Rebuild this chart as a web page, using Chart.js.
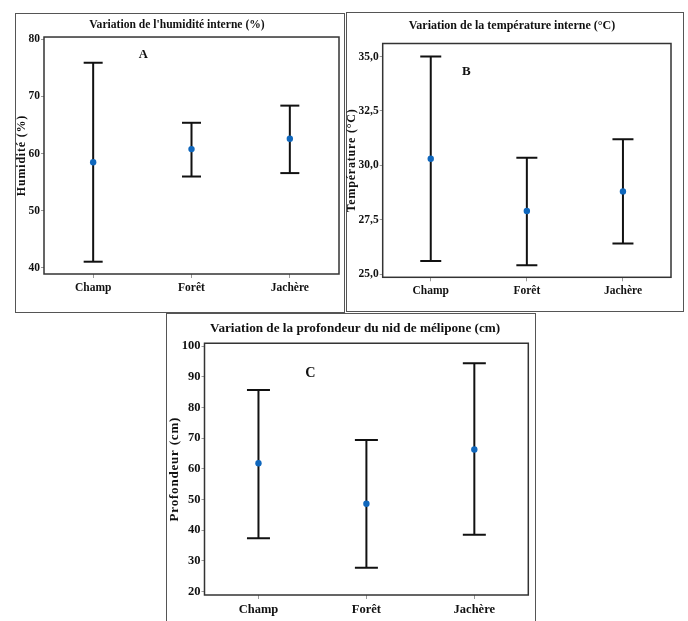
<!DOCTYPE html>
<html lang="fr">
<head>
<meta charset="UTF-8">
<title>Variation humidité, température, profondeur</title>
<script src="https://cdn.jsdelivr.net/npm/chart.js"></script>
<style>
    body { margin: 0; background: #fff; width: 688px; height: 621px; overflow: hidden; position: relative; }
    .frame { position: absolute; border: 1.5px solid #555; box-sizing: border-box; }
    .box { position: absolute; }
    #frameA { left: 15px; top: 13px; width: 330px; height: 300px; }
    #frameB { left: 346px; top: 12px; width: 338px; height: 300px; }
    #frameC { left: 166px; top: 313px; width: 370px; height: 320px; }
    #boxA { left: 15px; top: 13px; width: 329px; height: 299px; }
    #boxB { left: 345px; top: 13px; width: 338px; height: 299px; }
    #boxC { left: 167px; top: 313px; width: 368px; height: 308px; }
</style>
</head>
<body>
<div class="frame" id="frameA"></div>
<div class="frame" id="frameB"></div>
<div class="frame" id="frameC"></div>
<div class="box" id="boxA"><canvas id="chartA"></canvas></div>
<div class="box" id="boxB"><canvas id="chartB"></canvas></div>
<div class="box" id="boxC"><canvas id="chartC"></canvas></div>

<script>
// data
const categories = ['Champ', 'Forêt', 'Jachère'];

const humMean = [58.5, 60.8, 62.6];
const humLow  = [41.1, 56.0, 56.6];
const humHigh = [75.9, 65.4, 68.4];
const humTicks = [40, 50, 60, 70, 80];

const tempMean = [30.3, 27.9, 28.8];
const tempLow  = [25.6, 25.4, 26.4];
const tempHigh = [35.0, 30.35, 31.2];
const tempTicks = [25, 27.5, 30, 32.5, 35];

const profMean = [61.8, 48.6, 66.3];
const profLow  = [37.4, 27.8, 38.5];
const profHigh = [85.7, 69.4, 94.4];
const profTicks = [20, 30, 40, 50, 60, 70, 80, 90, 100];

const serif = "'Liberation Serif', 'Times New Roman', serif";

// plot box + panel letter
const framePlugin = {
    id: 'frame',
    afterDraw(chart, args, opts) {
        const a = chart.chartArea;
        const c = chart.ctx;
        c.save();
        c.strokeStyle = '#333';
        c.lineWidth = 1.5;
        c.strokeRect(a.left, a.top, a.right - a.left, a.bottom - a.top);
        c.fillStyle = '#111';
        c.font = 'bold ' + opts.size + 'px ' + serif;
        c.textAlign = 'center';
        c.textBaseline = 'middle';
        c.fillText(opts.letter, chart.scales.x.getPixelForValue(opts.at[0]), chart.scales.y.getPixelForValue(opts.at[1]));
        c.restore();
    }
};

// the y titles are spaced out in the original
function spacedTitle(s) {
    if (s._spaced) return;
    const orig = s.drawTitle;
    s.drawTitle = function () {
        this.ctx.save();
        this.ctx.letterSpacing = '0.8px';
        orig.apply(this, arguments);
        this.ctx.restore();
    };
    s._spaced = true;
}

function makePanel(id, p) {
    const whiskers = [];
    const caps = [];
    const means = [];
    for (let i = 0; i < categories.length; i++) {
        whiskers.push({x: i + 1, y: p.low[i]}, {x: i + 1, y: p.high[i]}, {x: i + 1, y: null});
        caps.push({x: i + 1, y: p.low[i]}, {x: i + 1, y: p.high[i]});
        means.push({x: i + 1, y: p.mean[i]});
    }
    new Chart(document.getElementById(id), {
        type: 'scatter',
        data: {
            datasets: [
                { data: whiskers, order: 2, showLine: true, spanGaps: false, borderColor: '#111', borderWidth: 2, pointRadius: 0 },
                { data: caps, order: 1, pointStyle: 'line', pointRadius: p.cap, borderColor: '#111', pointBorderWidth: 2 },
                { data: means, order: 0, pointRadius: 3.2, backgroundColor: '#0f67bd', borderWidth: 0 }
            ]
        },
        options: {
            responsive: true,
            maintainAspectRatio: false,
            animation: false,
            events: [],
            layout: { autoPadding: false, padding: { left: p.shift, top: 0, right: p.right, bottom: 0 } },
            plugins: {
                legend: { display: false },
                tooltip: { enabled: false },
                title: {
                    display: true,
                    text: p.title,
                    color: '#111',
                    font: { family: serif, size: p.titleSize, weight: 'bold', lineHeight: 1.2 },
                    padding: p.titlePad
                },
                frame: { letter: p.letter, at: p.letterAt, size: p.titleSize + 1 }
            },
            scales: {
                x: {
                    type: 'linear',
                    min: 0.5,
                    max: 3.5,
                    afterBuildTicks: s => { s.ticks = categories.map((c, i) => ({value: i + 1})); },
                    afterFit: s => { s.height = p.bottom; },
                    border: { display: false },
                    grid: { drawOnChartArea: false, tickLength: 4, color: '#999' },
                    ticks: {
                        color: '#111',
                        padding: 3,
                        font: { family: serif, size: p.tickSize, weight: 'bold' },
                        callback: v => categories[v - 1]
                    }
                },
                y: {
                    min: p.min,
                    max: p.max,
                    afterBuildTicks: s => { s.ticks = p.ticks.map(v => ({value: v})); },
                    afterFit: s => { s.width = p.left - p.shift; spacedTitle(s); },
                    border: { display: false },
                    grid: { drawOnChartArea: false, tickLength: 3, color: '#999' },
                    ticks: {
                        color: '#111',
                        padding: 1,
                        font: { family: serif, size: p.tickSize, weight: 'bold' },
                        callback: p.fmt
                    },
                    title: {
                        display: true,
                        text: p.yTitle,
                        color: '#111',
                        padding: { top: -p.shift, bottom: 0 },
                        font: { family: serif, size: p.yTitleSize, weight: 'bold', lineHeight: 1.2 }
                    }
                }
            }
        },
        plugins: [framePlugin]
    });
}

makePanel('chartA', {
    title: "Variation de l'humidité interne (%)", yTitle: 'Humidité (%)', letter: 'A', letterAt: [1.51, 77.3],
    mean: humMean, low: humLow, high: humHigh, ticks: humTicks, min: 38.95, max: 80.4,
    fmt: v => String(v), cap: 9.5, shift: 0,
    left: 29, right: 5, bottom: 38, titleSize: 11.6, titlePad: { top: 5, bottom: 5.1 },
    tickSize: 11.5, yTitleSize: 12
});

makePanel('chartB', {
    title: 'Variation de la température interne (°C)', yTitle: 'Température (°C)', letter: 'B', letterAt: [1.37, 34.3],
    mean: tempMean, low: tempLow, high: tempHigh, ticks: tempTicks, min: 24.85, max: 35.6,
    fmt: v => v.toFixed(1).replace('.', ','), cap: 10.5, shift: 8,
    left: 37.7, right: 12, bottom: 34.7, titleSize: 12, titlePad: { top: 5.5, bottom: 10.6 },
    tickSize: 11.5, yTitleSize: 12
});

makePanel('chartC', {
    title: 'Variation de la profondeur du nid de mélipone (cm)', yTitle: 'Profondeur (cm)', letter: 'C', letterAt: [1.48, 91.2],
    mean: profMean, low: profLow, high: profHigh, ticks: profTicks, min: 18.9, max: 100.9,
    fmt: v => String(v), cap: 11.5, shift: 15,
    left: 37.5, right: 6.7, bottom: 26, titleSize: 13.2, titlePad: { top: 8, bottom: 6.4 },
    tickSize: 12.5, yTitleSize: 13
});
</script>
</body>
</html>
